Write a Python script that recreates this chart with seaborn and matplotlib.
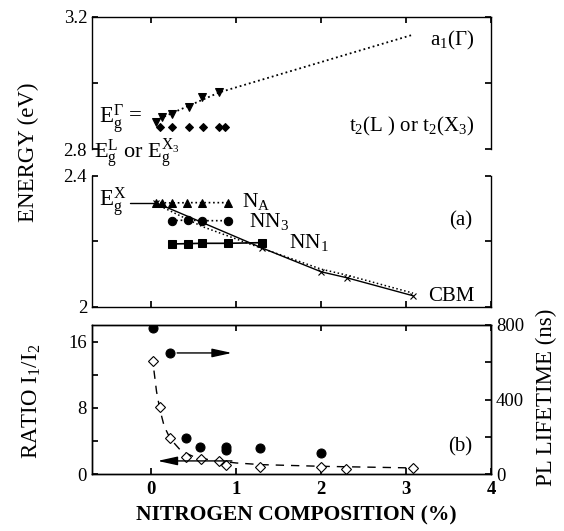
"""
Énergies des niveaux N dans GaP:N + rapport I1/I2 et durée de vie PL
"""

import matplotlib
matplotlib.use("Agg")
import matplotlib.pyplot as plt
import seaborn as sns

# ============================================================
# DONNÉES
# ============================================================

# panneau haut : a1(Γ) et t2(L / X3)
a1_x = [0.05, 0.13, 0.24, 0.44, 0.60, 0.80]
a1_e = [2.882, 2.897, 2.906, 2.927, 2.958, 2.973]
a1_fit_x = [0.10, 0.80, 3.06]
a1_fit_e = [2.893, 2.972, 3.145]
t2_x = [0.10, 0.24, 0.44, 0.61, 0.80, 0.87]
t2_e = [2.867, 2.866, 2.867, 2.867, 2.867, 2.867]

# panneau milieu : NA, NN3, NN1, CBM
na_x = [0.05, 0.12, 0.24, 0.42, 0.59, 0.90]
na_e = [2.318, 2.318, 2.317, 2.318, 2.318, 2.318]
nn3_x = [0.24, 0.43, 0.59, 0.90]
nn3_e = [2.263, 2.265, 2.263, 2.263]
nn1_x = [0.24, 0.43, 0.59, 0.90, 1.30]
nn1_e = [2.192, 2.193, 2.194, 2.194, 2.196]
cbm_x = [0.05, 1.30, 2.00, 2.30, 3.08]
cbm_e = [2.318, 2.180, 2.107, 2.089, 2.034]
cbm_fit_x = [0.10, 0.60, 1.20, 2.00, 2.30, 3.08]
cbm_fit_e = [2.308, 2.245, 2.188, 2.115, 2.097, 2.042]

# panneau bas : rapport I1/I2 (gauche) et durée de vie PL (droite)
ratio_x = [0.02, 0.10, 0.22, 0.41, 0.58, 0.79, 0.88, 1.28, 2.00, 2.29, 3.08]
ratio_y = [13.6, 8.1, 4.4, 2.1, 1.8, 1.6, 1.1, 0.85, 0.85, 0.6, 0.7]
ratio_fit_x = [0.03, 0.06, 0.10, 0.15, 0.22, 0.35, 0.50, 0.70, 1.00, 1.30, 2.00, 3.10]
ratio_fit_y = [12.5, 10.0, 7.8, 5.8, 4.3, 2.8, 2.1, 1.7, 1.35, 1.15, 0.95, 0.75]
life_x = [0.02, 0.22, 0.41, 0.57, 0.88, 0.88, 1.28, 2.00]
life_ns = [784, 650, 193, 145, 145, 129, 140, 113]

X_TICKS = [0, 1, 2, 3, 4]

# ============================================================
# STYLE
# ============================================================

sns.set_theme(style="ticks")
plt.rcParams.update({
    "font.family": ["Liberation Serif", "DejaVu Serif"],
    "mathtext.fontset": "custom",
    "mathtext.rm": "Liberation Serif",
    "mathtext.it": "Liberation Serif:italic",
    "mathtext.bf": "Liberation Serif:bold",
    "axes.edgecolor": "black",
    "axes.linewidth": 1.0,
    "xtick.direction": "in",
    "ytick.direction": "in",
    "xtick.major.size": 4,
    "ytick.major.size": 4,
    "xtick.color": "black",
    "ytick.color": "black",
    "xtick.labelsize": 13.5,
    "ytick.labelsize": 13.5,
    "text.color": "black",
})

K = "black"
fig = plt.figure(figsize=(5.64, 5.31), dpi=100)

ax1 = fig.add_axes([0.163, 0.719, 0.708, 0.249])
ax2 = fig.add_axes([0.163, 0.422, 0.708, 0.247])
ax3 = fig.add_axes([0.163, 0.107, 0.708, 0.281])
ax3r = ax3.twinx()


def _lignes(ax, x, y, **kw):
    sns.lineplot(x=x, y=y, ax=ax, estimator=None, sort=False, color=K, **kw)


# ------------------------------------------------------------
# panneau haut
# ------------------------------------------------------------
_lignes(ax1, a1_fit_x, a1_fit_e, linestyle=":", linewidth=1.3)
_lignes(ax1, a1_x, a1_e, linestyle="none", marker="v", markersize=6,
        markeredgecolor=K)
_lignes(ax1, t2_x, t2_e, linestyle="none", marker="D", markersize=4,
        markeredgecolor=K)

ax1.set_xlim(-0.7, 4)
ax1.set_ylim(2.8, 3.2)
ax1.set_yticks([2.8, 3.0, 3.2])
ax1.set_yticklabels(["2.8", "", "3.2"])
ax1.set_xticks(X_TICKS)
ax1.tick_params(axis="x", bottom=False, top=True, labelbottom=False)
ax1.tick_params(axis="y", left=True, right=True)
ax1.spines["bottom"].set_visible(False)

ax1.text(3.8, 3.13, r"a$_1$(Γ)", fontsize=15, ha="right", va="center")
ax1.text(3.8, 2.87, r"t$_2$(L ) or t$_2$(X$_3$)", fontsize=15,
         ha="right", va="center")
ax1.text(-0.62, 2.890, r"E$_\mathrm{g}^{\Gamma}$ =", fontsize=16.5,
         ha="left", va="center")
ax1.text(-0.67, 2.784, r"E$_\mathrm{g}^{\mathrm{L}}$ or E$_\mathrm{g}^{\mathrm{X_3}}$",
         fontsize=16, ha="left", va="center")

# ------------------------------------------------------------
# panneau milieu
# ------------------------------------------------------------
_lignes(ax2, cbm_fit_x, cbm_fit_e, linestyle=":", linewidth=1.1)
_lignes(ax2, cbm_x, cbm_e, linestyle="-", linewidth=1.0, marker="x",
        markersize=5, markeredgecolor=K, markeredgewidth=0.8)
_lignes(ax2, na_x, na_e, linestyle=":", linewidth=1.2, marker="^",
        markersize=6, markeredgecolor=K)
_lignes(ax2, nn3_x, nn3_e, linestyle=":", linewidth=1.2, marker="o",
        markersize=6, markeredgecolor=K)
_lignes(ax2, nn1_x, nn1_e, linestyle="-", linewidth=1.2, marker="s",
        markersize=6, markeredgecolor=K)
_lignes(ax2, [-0.25, 0.05], [2.318, 2.318], linestyle="-", linewidth=1.0)

ax2.set_xlim(-0.7, 4)
ax2.set_ylim(2.0, 2.4)
ax2.set_yticks([2.0, 2.2, 2.4])
ax2.set_yticklabels(["2", "", "2.4"])
ax2.set_xticks(X_TICKS)
ax2.tick_params(axis="x", bottom=True, top=False, labelbottom=False)
ax2.tick_params(axis="y", left=True, right=True)
ax2.spines["top"].set_visible(False)

ax2.text(-0.62, 2.318, r"E$_\mathrm{g}^{\mathrm{X}}$", fontsize=16.5,
         ha="left", va="center")
ax2.text(1.07, 2.322, r"N$_\mathrm{A}$", fontsize=15.5, ha="left", va="center")
ax2.text(1.15, 2.262, r"NN$_3$", fontsize=15.5, ha="left", va="center")
ax2.text(1.62, 2.195, r"NN$_1$", fontsize=15.5, ha="left", va="center")
ax2.text(3.78, 2.262, "(a)", fontsize=15, ha="right", va="center")
ax2.text(3.8, 2.032, "CBM", fontsize=15, ha="right", va="center")

# ------------------------------------------------------------
# panneau bas
# ------------------------------------------------------------
_lignes(ax3, ratio_fit_x, ratio_fit_y, linestyle=(0, (6, 5)), linewidth=1.0)
_lignes(ax3, ratio_x, ratio_y, linestyle="none", marker="D", markersize=5,
        markerfacecolor="white", markeredgecolor=K, markeredgewidth=0.8)
_lignes(ax3r, life_x, life_ns, linestyle="none", marker="o", markersize=6.5,
        markeredgecolor=K)

ax3.annotate("", xy=(0.04, 1.6), xytext=(0.98, 1.6),
             arrowprops=dict(arrowstyle="-|>,head_length=1.0,head_width=0.22",
                             color=K, lw=1.0))
ax3r.annotate("", xy=(0.98, 650), xytext=(0.27, 650),
              arrowprops=dict(arrowstyle="-|>,head_length=1.0,head_width=0.22",
                              color=K, lw=1.0))

ax3.set_xlim(-0.7, 4)
ax3.set_ylim(0, 18)
ax3.set_yticks([0, 4, 8, 12, 16])
ax3.set_yticklabels(["0", "", "8", "", "16"])
ax3.set_xticks(X_TICKS)
ax3.set_xticklabels([str(t) for t in X_TICKS], fontweight="bold")
ax3.tick_params(axis="x", bottom=True, top=True, pad=5)
ax3r.set_ylim(0, 800)
ax3r.set_yticks([0, 200, 400, 600, 800])
ax3r.set_yticklabels(["0", "", "400", "", "800"])
ax3r.tick_params(axis="y", direction="in", right=True, length=4)
ax3r.set_ylabel("")
ax3.set_ylabel("")

ax3r.text(3.78, 3.3 * 800 / 18, "(b)", fontsize=15, ha="right", va="center")

for ax in (ax1, ax2):
    ax.set_ylabel("")

# étiquettes des axes
fig.text(28 / 564, 1 - 152 / 531, "ENERGY (eV)", rotation=90, fontsize=16.5,
         ha="center", va="center")
fig.text(32 / 564, 1 - 401 / 531, r"RATIO I$_1$/I$_2$", rotation=90,
         fontsize=16.5, ha="center", va="center")
fig.text(546 / 564, 1 - 397 / 531, "PL LIFETIME (ns)", rotation=90,
         fontsize=16.5, ha="center", va="center")
fig.text(296 / 564, 1 - 515 / 531, "NITROGEN COMPOSITION (%)", fontsize=15.5,
         fontweight="bold", ha="center", va="center")

fig.savefig("out.png", dpi=100, facecolor="white")
